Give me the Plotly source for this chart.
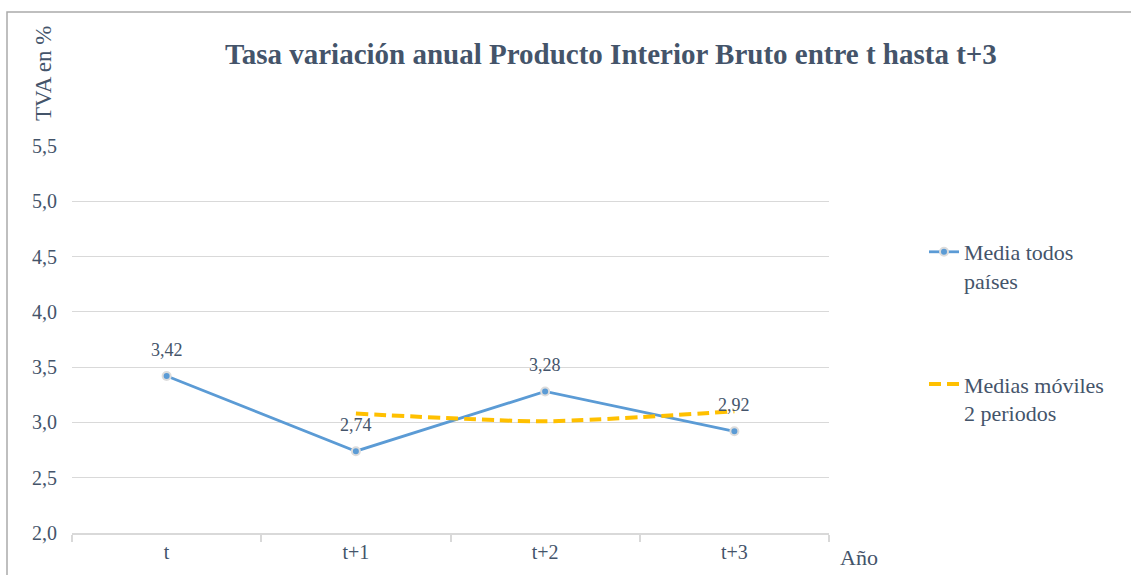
import plotly.graph_objects as go

categories = ["t", "t+1", "t+2", "t+3"]
media_todos = [3.42, 2.74, 3.28, 2.92]
medias_moviles = [None, 3.08, 3.01, 3.10]
y_ticks = [2.0, 2.5, 3.0, 3.5, 4.0, 4.5, 5.0, 5.5]

TXT = "#44546A"
FONT = "Liberation Serif"

# plot area pixels
W, H = 1131, 575
L, R, T, B = 72, 829, 146, 533

def px(x):
    return (x - L) / (R - L)

def py(y):
    return (B - y) / (B - T)

fig = go.Figure()
fig.add_trace(go.Scatter(
    x=categories, y=media_todos, name="Media todos<br>países",
    mode="lines+markers", legendgroup="a",
    line=dict(color="#5B9BD5", width=2.8),
    marker=dict(color="#5B9BD5", size=8, line=dict(color="#DCDCDC", width=2)),
))
fig.add_trace(go.Scatter(
    x=categories, y=medias_moviles, name="Medias móviles<br>2 periodos",
    mode="lines", legendgroup="b",
    line=dict(color="#FFC000", width=4, dash="12px,6px", shape="spline", smoothing=0.6),
))

annotations = []
for c, v in zip(categories, media_todos):
    annotations.append(dict(
        x=c, y=v, xref="x", yref="y", text=f"{v:.2f}".replace(".", ","),
        showarrow=False, yshift=26, font=dict(family=FONT, size=18, color=TXT),
    ))
annotations.append(dict(
    x=px(611), y=py(54), xref="paper", yref="paper",
    text="<b>Tasa variación anual Producto Interior Bruto entre t hasta t+3</b>",
    showarrow=False, xanchor="center", yanchor="middle",
    font=dict(family=FONT, size=29, color=TXT),
))
annotations.append(dict(
    x=px(44), y=py(74), xref="paper", yref="paper", text="TVA en %",
    textangle=-90, showarrow=False, xanchor="center", yanchor="middle",
    font=dict(family=FONT, size=23, color=TXT),
))
annotations.append(dict(
    x=px(859), y=py(557), xref="paper", yref="paper", text="Año",
    showarrow=False, xanchor="center", yanchor="middle",
    font=dict(family=FONT, size=22, color=TXT),
))

fig.update_layout(
    width=W, height=H,
    margin=dict(l=L, r=W - R, t=T, b=H - B, pad=0),
    paper_bgcolor="white", plot_bgcolor="white",
    separators=",.",
    font=dict(family=FONT, color=TXT, size=20),
    showlegend=True,
    legend=dict(
        x=px(924), y=py(231), xanchor="left", yanchor="top",
        font=dict(family=FONT, size=22, color=TXT),
        tracegroupgap=72, valign="top", bgcolor="rgba(0,0,0,0)",
    ),
    annotations=annotations,
    shapes=[dict(
        type="rect", xref="paper", yref="paper",
        x0=px(7), x1=px(1200), y0=py(640), y1=py(12),
        line=dict(color="#ABABAB", width=1.5), fillcolor="rgba(0,0,0,0)", layer="below",
    )],
)
fig.update_xaxes(
    type="category", range=[-0.5, 3.5], showgrid=False,
    showline=True, linecolor="#D9D9D9", linewidth=1.5,
    ticks="outside", tickson="boundaries", ticklen=7, tickcolor="#D9D9D9", tickwidth=1.5,
    tickfont=dict(family=FONT, size=20, color=TXT),
)
fig.update_yaxes(
    range=[2.0, 5.5], tickvals=y_ticks, tickformat=".1f",
    showgrid=True, gridcolor="#D9D9D9", gridwidth=1, zeroline=False,
    showline=False, ticks="", ticklabelstandoff=14,
    tickfont=dict(family=FONT, size=20, color=TXT),
)

fig.write_html("out.html", config={"displayModeBar": False},
               post_script="document.body.style.margin='0px';")
